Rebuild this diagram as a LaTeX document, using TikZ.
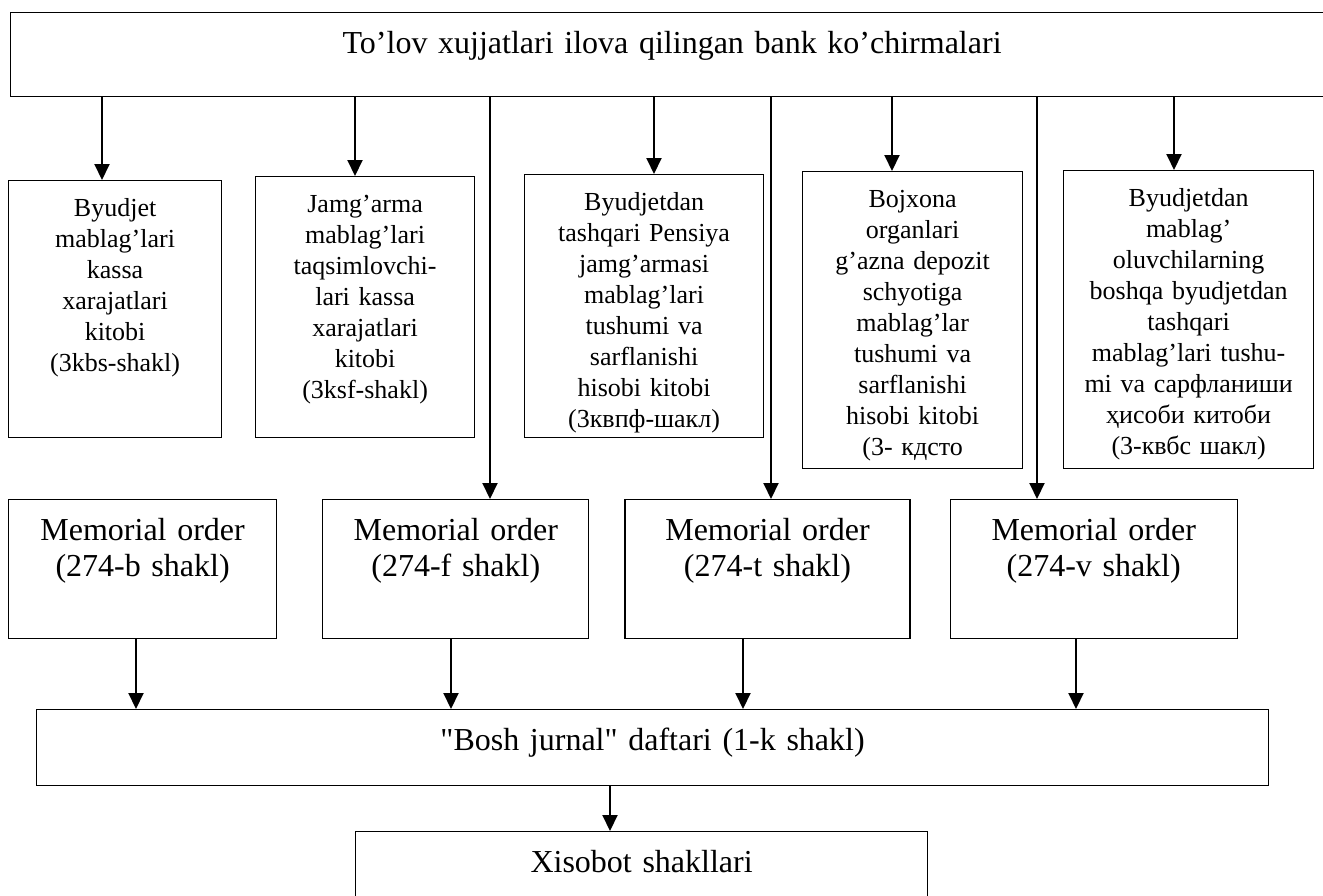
\documentclass[tikz,border=0pt]{standalone}
\usepackage{fontspec}
\setmainfont{Liberation Serif}
\usetikzlibrary{arrows.meta, positioning}

\begin{document}
\begin{tikzpicture}[x=1pt, y=-1pt,
  kitob/.style={rectangle, draw=black, line width=1.2pt, inner sep=0pt, align=center, font=\fontsize{26}{31}\selectfont, text height=36pt},
  katta/.style={rectangle, draw=black, line width=1.2pt, inner sep=0pt, align=center, font=\fontsize{32}{36}\selectfont, text height=41pt},
  strelka/.style={-{Triangle[length=16pt, width=15pt]}, line width=2pt}]
\useasboundingbox (0,0) rectangle (1323,895);
\clip (0,0) rectangle (1323,895);
% bank statements
\node[katta, text width=1323pt, text depth=43pt, anchor=north west] (bank) at (10,12) {To’lov xujjatlari ilova qilingan bank ko’chirmalari};
% books
\node[kitob, text width=213pt, text depth=221pt, anchor=north west] (kb1) at (8,180) {Byudjet\\mablag’lari\\kassa\\xarajatlari\\kitobi\\(3kbs-shakl)};
\node[kitob, text width=219pt, text depth=225pt, anchor=north west] (kb2) at (255,176) {Jamg’arma\\mablag’lari\\taqsimlovchi-\\lari kassa\\xarajatlari\\kitobi\\(3ksf-shakl)};
\node[kitob, text width=239pt, text depth=227pt, anchor=north west] (kb3) at (524,174) {Byudjetdan\\tashqari Pensiya\\jamg’armasi\\mablag’lari\\tushumi va\\sarflanishi\\hisobi kitobi\\(3квпф-шакл)};
\node[kitob, text width=220pt, text depth=261pt, anchor=north west] (kb4) at (802,171) {Bojxona\\organlari\\g’azna depozit\\schyotiga\\mablag’lar\\tushumi va\\sarflanishi\\hisobi kitobi\\(3- кдсто};
\node[kitob, text width=250pt, text depth=262pt, anchor=north west] (kb5) at (1063,170) {Byudjetdan\\mablag’\\oluvchilarning\\boshqa byudjetdan\\tashqari\\mablag’lari tushu-\\mi va сарфланиши\\ҳисоби китоби\\(3-квбс шакл)};
% memorial orders
\node[katta, text width=268pt, text depth=98pt, anchor=north west] (mo1) at (8,499) {Memorial order\\(274-b shakl)};
\node[katta, text width=266pt, text depth=98pt, right = 45pt of mo1] (mo2) {Memorial order\\(274-f shakl)};
\node[katta, text width=285pt, text depth=98pt, right = 35pt of mo2] (mo3) {Memorial order\\(274-t shakl)};
\node[katta, text width=287pt, text depth=98pt, right = 39pt of mo3] (mo4) {Memorial order\\(274-v shakl)};
% journal and reports
\node[katta, text width=1232pt, text depth=35pt, anchor=north west] (bosh) at (36,709) {\textquotedbl Bosh jurnal\textquotedbl{} daftari (1-k shakl)};
\node[katta, text width=572pt, text depth=80pt, anchor=north west] (xis) at (355,831) {Xisobot shakllari};
\draw[strelka] (bank.south -| 102,0) -- (kb1.north -| 102,0);
\draw[strelka] (bank.south -| 355,0) -- (kb2.north -| 355,0);
\draw[strelka] (bank.south -| 654,0) -- (kb3.north -| 654,0);
\draw[strelka] (bank.south -| 892,0) -- (kb4.north -| 892,0);
\draw[strelka] (bank.south -| 1174,0) -- (kb5.north -| 1174,0);
\draw[strelka] (bank.south -| 490,0) -- (mo2.north -| 490,0);
\draw[strelka] (bank.south -| 771,0) -- (mo3.north -| 771,0);
\draw[strelka] (bank.south -| 1037,0) -- (mo4.north -| 1037,0);
\draw[strelka] (mo1.south -| 136,0) -- (bosh.north -| 136,0);
\draw[strelka] (mo2.south -| 451,0) -- (bosh.north -| 451,0);
\draw[strelka] (mo3.south -| 743,0) -- (bosh.north -| 743,0);
\draw[strelka] (mo4.south -| 1076,0) -- (bosh.north -| 1076,0);
\draw[strelka] (bosh.south -| 610,0) -- (xis.north -| 610,0);
\end{tikzpicture}
\end{document}
